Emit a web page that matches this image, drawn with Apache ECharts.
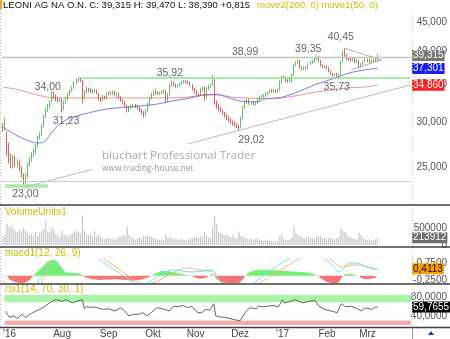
<!DOCTYPE html>
<html>
<head>
<meta charset="utf-8">
<script src="https://cdn.jsdelivr.net/npm/echarts@6/dist/echarts.min.js"></script>
<style>
html, body { margin: 0; padding: 0; background: #fff; }
#chart { width: 450px; height: 339px; }
</style>
</head>
<body>
<div id="chart"></div>
<script>
// LEONI AG daily bars, end of June 2016 to March 2017
const slots = 201; // 185 bars + empty room on the right

// [open, close, low, high]
const candles = [
  [29.7,29.1,28.9,29.9],[29.1,30.4,29.0,30.6],[28.7,26.5,26.2,28.9],[26.6,25.7,25.4,27.6],[25.9,25.1,24.9,26.4],
  [25.2,26.0,24.9,26.3],[26.0,25.3,25.0,26.2],[25.3,25.6,25.0,25.9],[25.5,24.9,24.6,25.7],[24.9,24.3,24.0,25.1],
  [24.2,23.5,23.0,24.4],[23.5,24.2,23.3,24.4],[24.2,25.3,24.0,25.5],[25.3,25.8,25.1,26.0],[25.8,26.4,25.6,26.6],
  [26.4,26.6,26.1,26.9],[26.6,27.3,26.4,27.5],[27.3,28.3,27.1,28.4],[28.3,28.5,28.0,28.8],[28.5,29.5,28.4,29.7],
  [29.5,30.7,29.4,30.9],[30.7,31.6,30.5,31.8],[31.6,32.0,31.3,32.3],[32.0,32.6,31.8,32.8],[32.7,33.8,32.5,34.0],
  [33.8,33.2,33.0,33.95],[33.3,33.0,32.7,33.6],[33.0,32.8,32.5,33.2],[32.8,32.9,32.6,33.1],[32.9,31.7,31.23,33.0],
  [31.7,32.6,31.5,32.8],[32.6,33.0,32.3,33.2],[33.0,33.6,32.8,33.8],[33.6,34.1,33.4,34.3],[34.1,34.5,33.9,34.7],
  [34.5,35.2,34.3,35.4],[35.2,35.6,35.0,35.8],[35.6,35.8,35.3,35.92],[35.8,35.5,35.3,35.9],[35.5,33.4,32.4,35.6],
  [33.4,33.9,33.0,34.2],[33.9,34.4,33.7,34.6],[34.3,34.2,33.9,34.5],[34.3,33.9,33.8,34.5],[33.9,34.0,33.7,34.3],
  [34.0,34.1,33.8,34.4],[34.1,33.8,33.6,34.3],[33.7,33.0,32.8,33.8],[33.0,32.8,32.6,33.2],[32.9,33.2,32.7,33.5],
  [33.2,33.1,32.9,33.4],[33.1,33.6,32.9,33.8],[33.6,33.8,33.4,34.0],[33.8,33.7,33.5,34.0],[33.7,33.9,33.5,34.1],
  [33.9,33.6,33.4,34.1],[33.6,33.7,33.3,33.9],[33.6,33.2,33.0,33.8],[33.2,32.8,32.6,33.3],[32.8,32.5,32.2,32.9],
  [32.5,32.1,31.9,32.7],[32.1,31.5,31.2,32.2],[31.5,31.9,31.3,32.1],[31.9,32.0,31.7,32.2],[32.0,32.1,31.8,32.3],
  [32.1,32.0,31.8,32.3],[32.0,31.8,31.6,32.2],[31.8,31.5,31.3,32.0],[31.5,31.2,31.0,31.7],[31.2,30.8,30.6,31.4],
  [30.8,31.4,30.7,31.6],[31.4,32.3,31.3,32.5],[32.3,33.0,32.1,33.2],[33.0,33.6,32.9,33.8],[33.6,33.9,33.4,34.1],
  [34.0,33.8,33.6,34.3],[33.8,33.7,33.5,34.0],[33.7,33.8,33.5,34.0],[33.8,33.9,33.6,34.1],[33.9,34.1,33.7,34.3],
  [34.0,32.8,32.5,34.2],[32.8,33.6,32.6,33.8],[33.6,34.9,33.5,35.1],[34.9,35.3,34.6,35.5],[35.3,34.9,34.7,35.4],
  [34.9,34.7,34.5,35.1],[34.7,34.8,34.5,35.0],[34.8,35.0,34.6,35.2],[35.0,35.3,34.8,35.5],[35.3,35.4,35.1,35.6],
  [35.4,35.3,35.1,35.6],[35.3,35.2,35.0,35.5],[35.2,34.9,34.7,35.4],[34.9,34.3,34.1,35.0],[34.3,34.0,33.7,34.5],
  [34.0,33.6,33.4,34.2],[33.6,33.5,33.2,33.8],[33.5,34.2,33.4,34.4],[34.2,34.5,34.0,34.7],[34.4,33.0,32.8,34.6],
  [33.1,34.4,33.0,34.6],[34.4,34.7,34.2,34.9],[34.7,34.9,34.5,35.1],[34.9,36.0,34.8,36.3],[35.6,32.4,32.2,35.7],
  [32.5,32.1,31.7,32.7],[32.1,31.6,31.4,32.4],[31.7,31.4,31.2,31.9],[31.4,31.1,30.9,31.6],[31.1,30.8,30.6,31.3],
  [30.8,30.5,30.3,31.0],[30.5,30.3,30.1,30.8],[30.3,30.0,29.8,30.5],[30.0,29.9,29.6,30.2],[29.9,29.7,29.5,30.1],
  [29.7,29.5,29.3,29.9],[29.5,29.4,29.02,29.7],[29.4,30.5,29.3,30.7],[30.5,31.9,30.4,32.1],[31.9,32.6,31.7,32.8],
  [32.6,32.8,32.3,33.0],[32.8,32.4,32.2,33.0],[32.4,32.5,32.2,32.7],[32.5,32.3,32.1,32.6],[32.3,32.4,32.1,32.6],
  [32.4,32.9,32.3,33.1],[32.9,33.2,32.7,33.4],[33.2,33.3,33.0,33.5],[33.3,33.4,33.1,33.6],[33.4,33.6,33.2,33.8],
  [33.6,33.8,33.5,34.0],[33.8,34.1,33.7,34.3],[34.1,34.0,33.8,34.3],[34.0,34.1,33.8,34.3],[34.1,34.0,33.8,34.2],
  [34.0,34.2,33.8,34.4],[34.2,35.3,34.1,35.5],[35.3,36.0,35.1,36.2],[36.0,35.9,35.7,36.2],[35.9,35.5,35.3,36.0],
  [35.5,35.4,35.2,35.7],[35.4,35.9,35.3,36.1],[35.9,36.3,35.2,36.5],[36.3,37.8,36.2,38.0],[37.8,38.2,37.6,38.4],
  [38.2,38.5,38.0,38.7],[38.5,37.5,37.3,38.6],[37.5,37.2,37.0,37.6],[37.2,37.4,37.0,37.6],[37.4,37.3,37.1,37.6],
  [37.3,37.9,37.2,38.1],[37.9,38.2,37.8,38.4],[38.2,38.4,38.0,38.6],[38.4,38.7,38.2,38.9],[38.7,39.2,38.6,39.35],
  [39.1,38.5,38.3,39.2],[38.5,37.8,37.6,38.6],[37.8,37.5,37.3,37.9],[37.5,37.6,37.3,37.8],[37.6,37.4,37.2,37.8],
  [37.4,36.9,36.7,37.5],[36.9,36.5,36.3,37.0],[36.5,36.3,36.1,36.6],[36.3,36.4,36.1,36.6],[36.4,36.0,35.9,36.6],
  [36.0,36.4,35.73,36.5],[36.4,38.3,36.3,38.5],[38.3,39.9,38.2,40.1],[39.9,39.3,39.1,40.45],[39.3,38.8,38.6,39.5],
  [38.8,38.7,38.5,39.0],[38.8,38.5,38.3,39.0],[38.6,38.9,38.4,39.1],[38.8,38.3,38.1,39.0],[38.3,38.6,38.1,38.8],
  [38.5,37.6,37.4,38.6],[37.6,37.9,37.4,38.1],[37.9,38.4,37.8,38.5],[38.4,38.6,38.2,38.8],[38.6,38.5,38.2,38.8],
  [38.5,38.3,38.1,38.7],[38.3,38.5,38.1,38.7],[38.5,38.6,38.3,38.8],[38.6,38.5,38.3,38.8],[38.5,39.315,38.39,39.47]
];

// volume in thousand units
const volumeK = [
  250,300,620,520,560,470,420,380,440,400, 500,430,360,300,320,280,380,260,340,420,
  480,720,400,380,520,450,340,300,260,420, 300,280,260,300,340,380,420,400,350,880,
  420,300,280,320,250,400,260,300,220,200, 180,220,200,170,190,160,200,230,260,300,
  280,540,300,220,180,160,200,210,180,260, 240,280,250,230,210,180,160,150,170,140,
  300,220,260,200,180,170,150,160,190,150, 140,160,180,200,220,240,200,250,230,380,
  300,220,200,520,850,620,400,350,300,280, 320,260,240,300,220,200,400,280,260,220,
  180,160,190,150,170,200,160,140,120,150, 140,130,120,110,100,130,250,300,180,160,
  140,170,220,560,350,300,280,240,200,220, 250,230,200,180,260,240,280,220,200,180,
  220,200,180,160,200,240,500,420,380,300, 240,220,200,180,160,360,300,200,170,150,
  160,140,150,170,213.912
];

// moving averages, read at [bar, price]
const ma50 = [
  [0,29.4],[8,28.3],[17,27.6],[20,27.7],[25,29.1],[31,30.3],[38,30.9],[46,31.4],[52,31.7],[61,31.9],
  [67,32.05],[76,32.3],[83,32.7],[92,33.1],[98,33.5],[105,33.6],[110,33.2],[115,32.8],[120,32.6],[125,32.6],
  [129,33.0],[137,33.2],[146,34.05],[154,35.0],[162,35.75],[170,36.6],[178,37.1],[184,37.301]
];
const ma200 = [
  [0,34.6],[8,34.2],[17,33.5],[25,33.1],[34,33.1],[48,33.1],[64,33.1],[80,33.1],[90,33.2],[100,33.5],
  [106,33.5],[113,33.2],[120,33.1],[129,33.0],[137,33.1],[146,33.5],[154,33.9],[162,34.2],[170,34.5],
  [178,34.6],[184,34.86]
];

// MACD(12, 26, 9)
const macdLine = [
  [0,-0.6],[3,-1.1],[6,-1.5],[10,-1.7],[14,-1.2],[17,-0.43],[21,0.3],[25,0.85],[29,1.3],[34,1.7],
  [38,1.9],[42,1.6],[47,0.97],[55,0.33],[60,-0.05],[64,-0.38],[68,-0.6],[71,-0.44],[76,-0.05],[80,0.22],
  [83,0.34],[87,0.3],[92,0.22],[97,0.25],[103,0.34],[106,-0.25],[109,-0.6],[114,-1.0],[118,-1.0],
  [123,-0.43],[127,-0.1],[131,0.3],[135,0.6],[140,0.95],[145,1.2],[150,1.25],[155,1.1],[158,0.98],
  [162,0.6],[165,0.22],[168,0.5],[170,0.75],[174,0.75],[178,0.55],[181,0.42],[184,0.34]
];
const signalLine = [
  [0,-0.3],[5,-0.8],[10,-1.3],[15,-1.0],[19,-0.43],[23,0.81],[27,1.2],[33,1.6],[40,1.6],[45,1.3],
  [50,0.97],[58,0.3],[66,-0.37],[70,-0.55],[77,-0.25],[84,0.2],[90,0.46],[96,0.35],[103,0.22],[106,-0.25],
  [109,-0.5],[115,-0.8],[120,-0.75],[126,-0.43],[135,0.24],[140,0.62],[145,0.97],[150,1.15],[156,1.1],
  [161,0.97],[166,0.5],[171,0.63],[176,0.63],[180,0.5],[184,0.4113]
];
const macdHist = [
  [0,0.05],[2,0],[3,-0.2],[6,-0.38],[9,-0.43],[11,-0.4],[13,-0.25],[15,0],[16,0.15],[18,0.35],
  [20,0.6],[22,0.85],[24,0.93],[26,0.9],[28,0.6],[30,0.3],[31,0.2],[33,0.18],[36,0.15],[38,0.15],
  [39,0],[40,-0.08],[43,-0.18],[47,-0.25],[52,-0.22],[56,-0.2],[60,-0.25],[64,-0.28],[68,-0.22],[71,-0.1],
  [73,0],[75,0.15],[78,0.28],[81,0.28],[84,0.2],[87,0.12],[90,0.05],[93,0],[94,-0.1],[97,-0.18],
  [100,-0.1],[101,0],[102,0.06],[103,0.1],[104,0],[105,-0.2],[108,-0.4],[112,-0.45],[116,-0.42],[118,-0.2],
  [119,0],[121,0.2],[124,0.32],[128,0.34],[133,0.32],[138,0.28],[143,0.25],[148,0.2],[152,0.12],[154,0.05],
  [155,0],[156,-0.15],[159,-0.35],[162,-0.45],[165,-0.4],[166,-0.2],[167,0],[168,0.08],[171,0.1],[174,0.02],
  [175,0],[176,-0.15],[179,-0.2],[182,-0.15],[184,-0.07]
];

// RSI(14)
const rsi = [
  [0,51.2],[2,37.2],[4,40.7],[6,35.1],[8,44.2],[10,37.2],[12,44.2],[15,51.2],[17,54.7],[20,63.2],
  [23,72.2],[25,75.8],[28,72.2],[30,75.8],[33,68.8],[35,72.2],[38,75.8],[39,56.1],[40,61.8],[42,58.3],
  [44,60.4],[48,54.7],[51,56.1],[54,51.2],[57,58.3],[59,51.2],[61,40.7],[63,44.2],[66,44.2],[68,47.7],
  [70,40.7],[73,51.2],[75,58.3],[79,54.7],[81,51.2],[83,61.8],[85,60.4],[88,63.2],[90,58.3],[92,61.8],
  [95,47.7],[97,47.7],[99,54.7],[101,53.0],[103,67.4],[104,40.7],[106,38.5],[109,37.2],[112,33.7],[116,30.1],
  [119,51.2],[121,58.3],[124,56.1],[125,61.8],[128,60.4],[132,63.2],[135,60.4],[137,75.8],[138,68.8],[141,72.2],
  [143,75.8],[145,72.2],[147,68.8],[150,72.2],[153,74.0],[155,61.8],[158,54.7],[161,51.2],[164,47.7],[166,67.4],
  [168,60.4],[171,61.8],[173,58.3],[176,51.2],[178,58.3],[181,54.7],[183,60.4],[184,59.7655]
];

const tickIdx = [2, 28, 51, 73, 94, 116, 137, 159, 179];
const tickText = ["'16", 'Aug', 'Sep', 'Okt', 'Nov', 'Dez', "'17", 'Feb', 'Mrz'];
const priceTicks = [25, 30, 35, 40, 45];

const FONT = 'Liberation Sans, Arial, sans-serif';
const de = (v, d) => v.toFixed(d).replace('.', ',');
const days = Array.from({ length: slots }, (_, i) => String(i));

const grids = [
  { left: 2, right: 38, top: 10, height: 195 },
  { left: 2, right: 38, top: 207, height: 38 },
  { left: 2, right: 38, top: 259, height: 24.5 },
  { left: 2, right: 38, top: 288, height: 39 }
];

const xAxes = grids.map((g, i) => ({
  type: 'category', gridIndex: i, data: days, boundaryGap: true,
  axisLine: { show: false }, axisTick: { show: false }, splitLine: { show: false },
  axisLabel: i === 3 ? {
    interval: (idx) => tickIdx.includes(idx),
    formatter: (v, idx) => { const k = tickIdx.indexOf(idx); return k < 0 ? '' : tickText[k]; },
    margin: 3, fontSize: 10, color: '#444', fontFamily: FONT
  } : { show: false }
}));

function yAx(i, extra, ticks, fmt) {
  return Object.assign({
    gridIndex: i, position: 'right', scale: true,
    axisLine: { show: false }, axisTick: { show: false }, splitLine: { show: false },
    axisLabel: { customValues: ticks, formatter: fmt, align: 'right', margin: 36, fontSize: 10, color: '#555', fontFamily: FONT }
  }, extra);
}

const yAxes = [
  yAx(0, { type: 'log', logBase: 10, min: 21.48, max: 47.23 }, priceTicks, (v) => de(v, 3)),
  yAx(1, { type: 'value', min: 0, max: 1120 }, [0, 500], (v) => String(Math.round(v * 1000))),
  yAx(2, { type: 'value', min: -0.456, max: 0.985 }, [-0.25, 0.75], (v) => de(v, 4)),
  yAx(3, { type: 'value', min: 18.9, max: 101 }, [40, 80], (v) => de(v, 4))
];

function box(value, text, bg, fg) {
  return {
    yAxis: value,
    lineStyle: { color: 'rgba(0,0,0,0)', width: 0 },
    label: {
      show: true, position: 'end', distance: 1, formatter: text,
      backgroundColor: bg, color: fg, padding: [1, 1, 0, 1], fontSize: 10, fontFamily: FONT
    }
  };
}

function boxSeries(g, items) {
  return {
    type: 'line', xAxisIndex: g, yAxisIndex: g, data: [], clip: false, z: 6, silent: true,
    markLine: { symbol: ['none', 'none'], silent: true, animation: false, data: items }
  };
}

const grey = { color: '#c4c4c4', width: 1.3, type: 'solid' };
const seg = (a, b, style) => [{ coord: a, lineStyle: style }, { coord: b }];

function tag(idx, value, text, dy) {
  return {
    coord: [idx, value], symbolSize: 0,
    label: { show: true, position: 'inside', formatter: text, offset: [0, dy], color: '#666', fontSize: 10.5, fontFamily: FONT }
  };
}

const option = {
  animation: false,
  backgroundColor: '#fff',
  grid: grids,
  xAxis: xAxes,
  yAxis: yAxes,
  series: [
    {
      // support / resistance levels and trend lines
      type: 'line', xAxisIndex: 0, yAxisIndex: 0, data: [], clip: false, z: 1, silent: true,
      markLine: {
        symbol: ['none', 'none'], silent: true, animation: false,
        label: { show: false },
        data: [
          { yAxis: 38.99, lineStyle: grey },
          { yAxis: 23.68, lineStyle: { color: '#cfcfcf', width: 1.2, type: 'solid' } },
          seg([37, 35.92], [200, 35.92], { color: '#8fe08f', width: 1.5, type: 'solid' }),
          seg([-1, 31.45], [62, 31.45], { color: '#aeeeae', width: 4, type: 'solid' }),
          seg([1, 23.25], [22, 23.25], { color: '#a8eaa8', width: 3.5, type: 'solid' }),
          seg([10, 23.05], [200, 34.88], { color: '#bdbdbd', width: 1, type: 'solid' }),
          seg([168, 40.45], [186, 38.6], { color: '#b0b0b0', width: 1, type: 'solid' }),
          seg([171, 37.1], [186, 38.6], { color: '#b0b0b0', width: 1, type: 'solid' })
        ]
      }
    },
    {
      type: 'line', name: 'move2', xAxisIndex: 0, yAxisIndex: 0, data: ma200, z: 2,
      showSymbol: false, smooth: 0.3, lineStyle: { color: '#f29090', width: 1 }
    },
    {
      type: 'line', name: 'move1', xAxisIndex: 0, yAxisIndex: 0, data: ma50, z: 2,
      showSymbol: false, smooth: 0.3, lineStyle: { color: '#7b7bf0', width: 1 }
    },
    {
      type: 'candlestick', xAxisIndex: 0, yAxisIndex: 0, data: candles, z: 3,
      barWidth: 1.3,
      itemStyle: { color: '#1fa81f', color0: '#cf1b1b', borderColor: '#1fa81f', borderColor0: '#cf1b1b', borderWidth: 0.7 },
      markPoint: {
        silent: true, animation: false, symbolSize: 0,
        data: [
          tag(22, 34.0, '34,00', -4),
          tag(82, 35.92, '35,92', -5),
          tag(119, 38.99, '38,99', -5),
          tag(150, 39.35, '39,35', -6),
          tag(166, 40.45, '40,45', -11),
          tag(31, 31.23, '31,23', 9),
          tag(122, 29.02, '29,02', 9.5),
          tag(164, 35.73, '35,73', 8),
          tag(11, 23.0, '23,00', 6)
        ]
      }
    },
    boxSeries(0, [
      box(39.315, '39,315', '#777', '#fff'),
      box(37.301, '37,301', '#1a1aff', '#fff'),
      box(34.86, '34,860', '#ff1f1f', '#fff')
    ]),
    {
      type: 'bar', xAxisIndex: 1, yAxisIndex: 1, data: volumeK, barWidth: 1.2,
      itemStyle: { color: '#c6c6c6' }
    },
    boxSeries(1, [box(213.912, '213912', '#6e6e6e', '#fff')]),
    {
      type: 'line', xAxisIndex: 2, yAxisIndex: 2, showSymbol: false,
      data: macdHist.map(([i, v]) => [i, Math.max(v, 0)]),
      lineStyle: { width: 0 }, areaStyle: { color: '#74ef74', opacity: 1 }
    },
    {
      type: 'line', xAxisIndex: 2, yAxisIndex: 2, showSymbol: false,
      data: macdHist.map(([i, v]) => [i, Math.min(v, 0)]),
      lineStyle: { width: 0 }, areaStyle: { color: '#f47575', opacity: 1 }
    },
    {
      type: 'line', xAxisIndex: 2, yAxisIndex: 2, showSymbol: false, data: signalLine,
      smooth: 0.3, lineStyle: { color: '#ffb366', width: 1 }
    },
    {
      type: 'line', xAxisIndex: 2, yAxisIndex: 2, showSymbol: false, data: macdLine,
      smooth: 0.3, lineStyle: { color: '#62e4f2', width: 1 }
    },
    boxSeries(2, [box(0.4113, '0,4113', '#ff9c00', '#111')]),
    {
      type: 'line', xAxisIndex: 3, yAxisIndex: 3, showSymbol: false, data: rsi,
      lineStyle: { color: '#666', width: 1 },
      markArea: {
        silent: true,
        data: [
          [{ yAxis: 70, itemStyle: { color: '#a8f5a8' } }, { yAxis: 86 }],
          [{ yAxis: 21, itemStyle: { color: '#f6aaaa' } }, { yAxis: 30 }]
        ]
      }
    },
    boxSeries(3, [box(59.7655, '59,7655', '#000', '#fff')])
  ],
  graphic: [
    { type: 'rect', shape: { x: 0, y: 0, width: 2, height: 9 }, style: { fill: '#f5a31e' }, z: 20, silent: true },
    { type: 'text', x: 3, y: 5, z: 20, silent: true,
      style: { text: 'LEONI AG NA O.N. C: 39,315 H: 39,470 L: 38,390 +0,815', font: '9.6px ' + FONT, fill: '#111', verticalAlign: 'middle', textVerticalAlign: 'middle' } },
    { type: 'text', x: 257, y: 5, z: 20, silent: true,
      style: { text: 'move2(200, 0) move1(50, 0)', font: '9.6px ' + FONT, fill: '#c9c200', verticalAlign: 'middle', textVerticalAlign: 'middle' } },
    // watermark with its own white backing
    { type: 'rect', shape: { x: 93, y: 144, width: 172, height: 32 }, style: { fill: '#fff' }, z: 10, silent: true },
    { type: 'text', x: 102, y: 156, z: 11, silent: true,
      style: { text: 'bluchart Professional Trader', font: '11.6px "Open Sans"', fill: '#aaa', verticalAlign: 'middle', textVerticalAlign: 'middle' } },
    { type: 'text', x: 102, y: 168.5, z: 11, silent: true,
      style: { text: 'www.trading-house.net', font: '8.4px "Open Sans"', fill: '#999', verticalAlign: 'middle', textVerticalAlign: 'middle' } },
    // panel titles
    { type: 'text', x: 5, y: 212, z: 20, silent: true,
      style: { text: 'VolumeUnits1', font: '10px ' + FONT, fill: '#c9c200', verticalAlign: 'middle', textVerticalAlign: 'middle' } },
    { type: 'text', x: 5, y: 253, z: 20, silent: true,
      style: { text: 'macd1(12, 26, 9)', font: '10px ' + FONT, fill: '#c9c200', verticalAlign: 'middle', textVerticalAlign: 'middle' } },
    { type: 'text', x: 5, y: 289.5, z: 20, silent: true,
      style: { text: 'rsi1(14, 70, 30, 1)', font: '10px ' + FONT, fill: '#c9c200', verticalAlign: 'middle', textVerticalAlign: 'middle' } },
    // frame
    { type: 'line', shape: { x1: 412.5, y1: 10, x2: 412.5, y2: 327 }, style: { stroke: '#e2c98a', lineWidth: 1, lineDash: [1, 2] }, z: 20, silent: true },
    { type: 'line', shape: { x1: 0.5, y1: 10, x2: 0.5, y2: 327 }, style: { stroke: '#bbb', lineWidth: 1, lineDash: [1, 2] }, z: 20, silent: true },
    { type: 'line', shape: { x1: 0, y1: 205, x2: 450, y2: 205 }, style: { stroke: '#3c3f4c', lineWidth: 1.5 }, z: 20, silent: true },
    { type: 'line', shape: { x1: 0, y1: 247, x2: 450, y2: 247 }, style: { stroke: '#3c3f4c', lineWidth: 1.5 }, z: 20, silent: true },
    { type: 'line', shape: { x1: 0, y1: 284, x2: 450, y2: 284 }, style: { stroke: '#3c3f4c', lineWidth: 1.5 }, z: 20, silent: true },
    { type: 'line', shape: { x1: 0, y1: 327.5, x2: 450, y2: 327.5 }, style: { stroke: '#3c3f4c', lineWidth: 1.5 }, z: 20, silent: true },
    { type: 'line', shape: { x1: 412.5, y1: 328, x2: 412.5, y2: 339 }, style: { stroke: '#999', lineWidth: 1 }, z: 20, silent: true },
    { type: 'polygon', shape: { points: [[428, 335], [434, 335], [431, 331]] }, style: { fill: '#1b3a9e' }, z: 20, silent: true }
  ]
};

const chart = echarts.init(document.getElementById('chart'));
chart.setOption(option);
</script>
</body>
</html>
